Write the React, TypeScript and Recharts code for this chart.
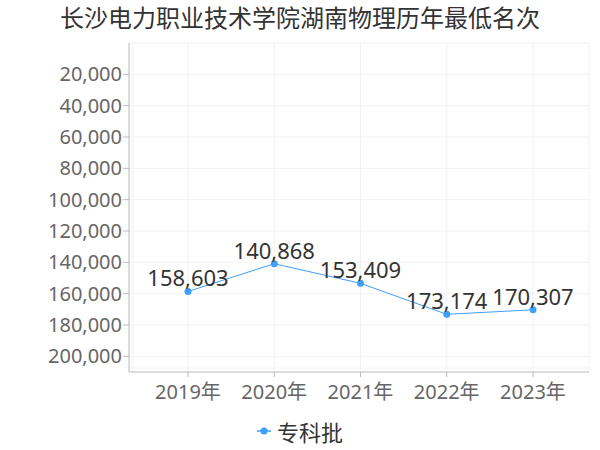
import React from 'react';
import { LineChart, Line, XAxis, YAxis, CartesianGrid, Legend, LabelList } from 'recharts';

const years = ['2019年', '2020年', '2021年', '2022年', '2023年'];
const ranks = [158603, 140868, 153409, 173174, 170307];
const yTicks = [20000, 40000, 60000, 80000, 100000, 120000, 140000, 160000, 180000, 200000];
const seriesName = '专科批';
const title = '长沙电力职业技术学院湖南物理历年最低名次';

const Y_MAX = 210000;
const PAD_L = 59;
const PAD_R = 56;
const COLOR = '#409EFF';
const FONT = '"Noto Sans", "Noto Sans CJK SC", sans-serif';
const CJK = '"Noto Sans CJK SC", "Noto Sans", sans-serif';

const data = years.map((y, i) => ({ year: y, rank: ranks[i] }));

const fmt = (v: number) => v.toLocaleString('en-US');

const LegendContent = () => (
  <div style={{ display: 'flex', justifyContent: 'center', alignItems: 'center', height: 28, fontFamily: CJK }}>
    <svg width={14} height={12} style={{ marginRight: 6 }}>
      <line x1={0} y1={6} x2={14} y2={6} stroke={COLOR} strokeWidth={1.5} />
      <circle cx={7} cy={6} r={3.5} fill={COLOR} />
    </svg>
    <span style={{ fontSize: 22, color: '#333', lineHeight: '28px' }}>{seriesName}</span>
  </div>
);

export default function App() {
  return (
    <div style={{ position: 'absolute', left: 0, top: 0, width: 600, height: 450, background: '#fff', fontFamily: FONT }}>
      <div style={{ position: 'absolute', left: 0, top: 0, width: 600, textAlign: 'center', fontSize: 24, lineHeight: '34px', color: '#333', whiteSpace: 'nowrap', fontFamily: CJK }}>
        {title}
      </div>
      <LineChart width={600} height={450} data={data} margin={{ top: 43, right: 11, bottom: 12, left: 0 }}>
        <CartesianGrid
          stroke="#f2f2f2"
          horizontalCoordinatesGenerator={({ offset }: any) => {
            const s = (v: number) => offset.top + (v / Y_MAX) * offset.height;
            return [s(0), ...yTicks.map(s), offset.top + offset.height - 4];
          }}
          verticalCoordinatesGenerator={({ offset }: any) => {
            const l = offset.left + PAD_L;
            const step = (offset.width - PAD_L - PAD_R) / (years.length - 1);
            return [offset.left + 4, ...years.map((_, i) => l + i * step), offset.left + offset.width];
          }}
        />
        <XAxis
          dataKey="year"
          padding={{ left: PAD_L, right: PAD_R }}
          height={30}
          stroke="#bbb"
          tickSize={5}
          tickMargin={8}
          tick={{ fill: '#666', fontSize: 20, fontFamily: FONT }}
        />
        <YAxis
          reversed
          domain={[0, Y_MAX]}
          ticks={yTicks}
          width={129}
          stroke="#bbb"
          tickSize={6}
          tickMargin={1}
          tickFormatter={fmt}
          tick={{ fill: '#666', fontSize: 20, fontFamily: FONT }}
        />
        <Legend verticalAlign="bottom" height={36} content={<LegendContent />} wrapperStyle={{ top: 417, left: 0, width: 600 }} />
        <Line
          type="linear"
          dataKey="rank"
          name={seriesName}
          stroke={COLOR}
          strokeWidth={1}
          dot={{ r: 3.5, fill: COLOR, stroke: COLOR, strokeWidth: 0 }}
          isAnimationActive={false}
        >
          <LabelList
            dataKey="rank"
            position="top"
            offset={5}
            formatter={(v: any) => fmt(Number(v))}
            fill="#333"
            fontSize={22}
            fontFamily={FONT}
          />
        </Line>
      </LineChart>
    </div>
  );
}
